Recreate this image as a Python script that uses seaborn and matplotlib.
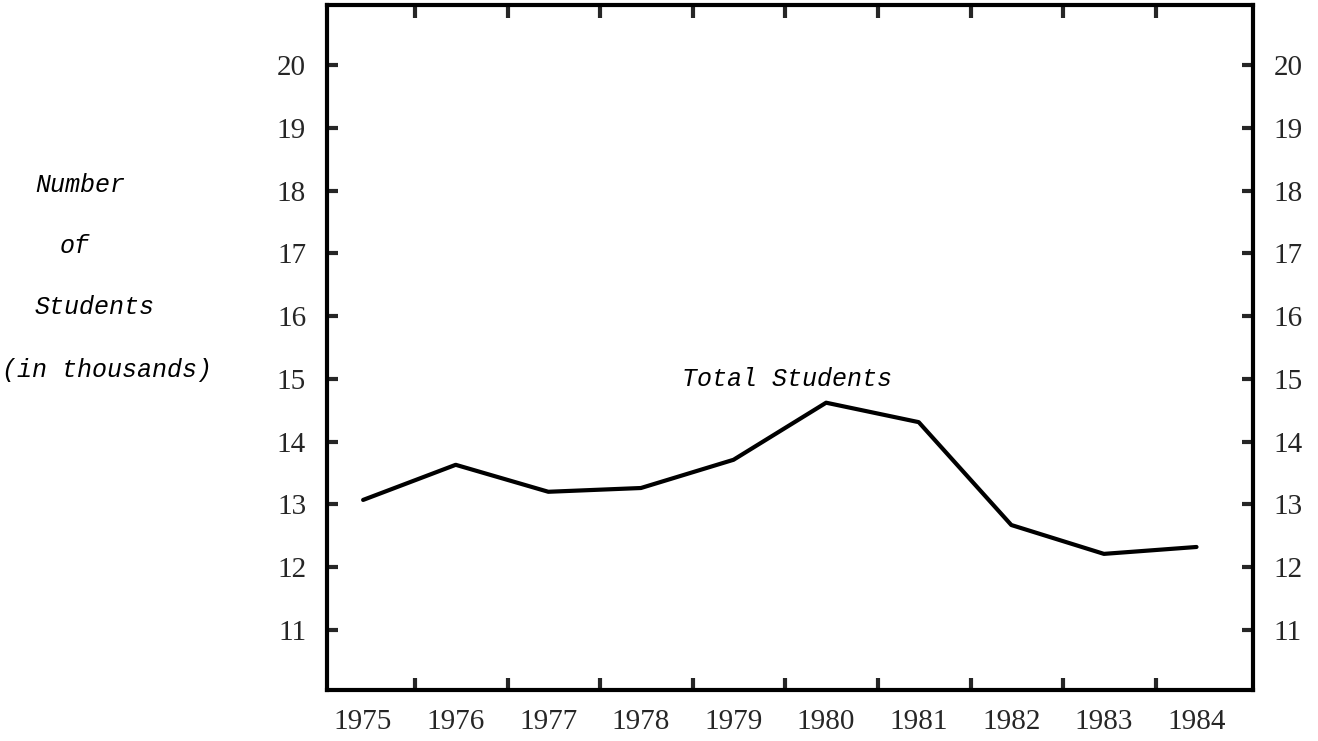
import matplotlib
matplotlib.use("Agg")
import matplotlib.pyplot as plt
import seaborn as sns

# data (thousands of students)
years = [1975, 1976, 1977, 1978, 1979, 1980, 1981, 1982, 1983, 1984]
students = [13.07, 13.63, 13.20, 13.26, 13.71, 14.62, 14.31, 12.67, 12.21, 12.32]
y_ticks = [11, 12, 13, 14, 15, 16, 17, 18, 19, 20]
ylabel_lines = ["Number", "of", "Students", "(in thousands)"]
series_label = "Total Students"

sns.set_style("ticks")
plt.rcParams["font.family"] = ["Liberation Serif", "DejaVu Serif"]

W, H = 1318, 741
fig = plt.figure(figsize=(W / 100, H / 100), dpi=100)
ax = fig.add_axes([327 / W, 1 - 690 / H, 926 / W, 685 / H])

sns.lineplot(x=years, y=students, color="black", linewidth=3, ax=ax)

ax.set_xlim(1974.61, 1984.61)
ax.set_ylim(10.04, 20.96)

for s in ax.spines.values():
    s.set_visible(True)
    s.set_linewidth(3)
    s.set_color("black")

# years labelled on bottom, tick marks between years
ax.set_xticks(years)
ax.set_xticklabels([str(y) for y in years])
ax.set_xticks([y + 0.56 for y in years[:-1]], minor=True)
ax.tick_params(axis="x", which="major", length=0, pad=14, labelsize=21)
ax.tick_params(axis="x", which="minor", direction="in", length=9, width=3,
               top=True, bottom=True)

ax.set_yticks(y_ticks)
ax.set_yticklabels([str(v) for v in y_ticks])
ax.tick_params(axis="y", which="major", direction="in", length=8, width=3,
               left=True, right=True, labelleft=True, labelright=True,
               pad=15, labelsize=21)
ax.yaxis.set_minor_locator(matplotlib.ticker.NullLocator())

ax.set_xlabel("")
ax.set_ylabel("")
ax.grid(False)

mono = dict(family=["Liberation Mono", "DejaVu Sans Mono"], style="italic",
            fontsize=18, color="black", va="baseline", ha="left")

ax.text(1978.44, 14.89, series_label, **mono)

# stacked axis title on the left
for txt, (px, py) in zip(ylabel_lines, [(35, 192), (60, 253), (35, 314), (2, 377)]):
    fig.text(px / W, 1 - py / H, txt, **mono)

fig.savefig("out.png", dpi=100, facecolor="white")
